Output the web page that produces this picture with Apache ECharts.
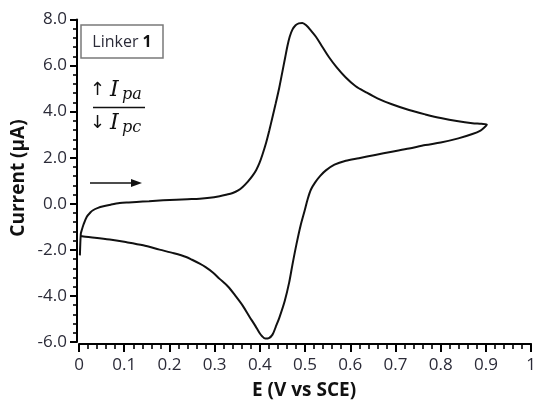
<!DOCTYPE html>
<html>
<head>
<meta charset="utf-8">
<script src="https://cdn.jsdelivr.net/npm/echarts@6/dist/echarts.min.js"></script>
<style>
  html, body { margin: 0; padding: 0; background: #fff; }
  #chart { width: 539px; height: 403px; }
</style>
</head>
<body>
<div id="chart"></div>
<script>
// Cyclic voltammogram of Linker 1 (potential in V vs SCE, current in µA)

// Anodic (forward) sweep, 0 V -> 0.9 V
const potentialForward = [
  0.002, 0.004, 0.006, 0.010, 0.017, 0.025, 0.031, 0.042, 0.054, 0.070,
  0.090, 0.110, 0.127, 0.155, 0.186, 0.215, 0.240, 0.267, 0.289, 0.311,
  0.325, 0.340, 0.352, 0.362, 0.373, 0.384, 0.392, 0.399, 0.406, 0.414,
  0.421, 0.428, 0.435, 0.443, 0.450, 0.456, 0.461, 0.466, 0.472, 0.479,
  0.486, 0.494, 0.503, 0.513, 0.524, 0.538, 0.553, 0.570, 0.590, 0.612,
  0.634, 0.660, 0.692, 0.730, 0.766, 0.800, 0.839, 0.870, 0.890, 0.902
];
const currentForward = [
  -2.24, -1.30, -1.15, -0.90, -0.57, -0.38, -0.28, -0.18, -0.11, -0.04,
  0.03, 0.06, 0.08, 0.11, 0.15, 0.18, 0.20, 0.22, 0.26, 0.33,
  0.39, 0.47, 0.58, 0.73, 0.95, 1.22, 1.47, 1.76, 2.15, 2.66,
  3.19, 3.77, 4.35, 5.05, 5.75, 6.35, 6.85, 7.25, 7.56, 7.75,
  7.83, 7.85, 7.74, 7.52, 7.25, 6.82, 6.36, 5.92, 5.48, 5.10,
  4.85, 4.58, 4.32, 4.07, 3.88, 3.72, 3.58, 3.50, 3.47, 3.44
];

// Cathodic (reverse) sweep, 0.9 V -> 0 V
const potentialReverse = [
  0.897, 0.888, 0.870, 0.839, 0.800, 0.766, 0.730, 0.692, 0.655, 0.619,
  0.590, 0.565, 0.546, 0.534, 0.522, 0.513, 0.506, 0.499, 0.490, 0.481,
  0.472, 0.465, 0.455, 0.443, 0.435, 0.428, 0.420, 0.412, 0.405, 0.399,
  0.390, 0.377, 0.362, 0.347, 0.330, 0.311, 0.296, 0.280, 0.267, 0.250,
  0.237, 0.210, 0.178, 0.142, 0.100, 0.068, 0.035, 0.010, 0.002
];
const currentReverse = [
  3.32, 3.18, 3.03, 2.84, 2.66, 2.55, 2.40, 2.26, 2.12, 1.98,
  1.87, 1.70, 1.45, 1.22, 0.92, 0.62, 0.22, -0.30, -0.95, -1.75,
  -2.65, -3.40, -4.22, -4.95, -5.35, -5.68, -5.83, -5.85, -5.75, -5.60,
  -5.30, -4.90, -4.42, -4.02, -3.60, -3.26, -2.98, -2.75, -2.60, -2.43,
  -2.31, -2.15, -1.99, -1.80, -1.65, -1.55, -1.47, -1.42, -1.40
];

// Axis ranges and tick spacing
const xRange = [0, 1];
const xStep = 0.1;
const yRange = [-6, 8];
const yStep = 2;

const sweep = potentialForward.map((e, i) => [e, currentForward[i]])
  .concat(potentialReverse.map((e, i) => [e, currentReverse[i]]));

const labelColor = '#2b2b38';
const tickFont = '"Open Sans", "Noto Sans", sans-serif';

const chart = echarts.init(document.getElementById('chart'), null, { renderer: 'canvas' });

chart.setOption({
  animation: false,
  backgroundColor: '#ffffff',
  grid: { left: 79, right: 6, top: 19.5, bottom: 61, containLabel: false },
  xAxis: {
    type: 'value',
    min: xRange[0], max: xRange[1], interval: xStep,
    offset: 2,
    axisLine: { show: true, onZero: false, lineStyle: { color: '#000', width: 2 } },
    axisTick: { show: true, inside: false, length: 8, lineStyle: { color: '#000', width: 2 } },
    minorTick: { show: true, splitNumber: 5, length: 5, lineStyle: { color: '#000', width: 1.6 } },
    splitLine: { show: false },
    axisLabel: {
      margin: 13, color: labelColor, fontSize: 17, fontFamily: tickFont,
      formatter: v => String(+v.toFixed(1))
    }
  },
  yAxis: {
    type: 'value',
    min: yRange[0], max: yRange[1], interval: yStep,
    offset: 2,
    axisLine: { show: true, onZero: false, lineStyle: { color: '#000', width: 2 } },
    axisTick: { show: true, inside: false, length: 7, lineStyle: { color: '#000', width: 2 } },
    minorTick: { show: true, splitNumber: 5, length: 4, lineStyle: { color: '#000', width: 1.6 } },
    splitLine: { show: false },
    axisLabel: {
      margin: 10, color: labelColor, fontSize: 17, fontFamily: tickFont,
      formatter: v => v.toFixed(1)
    }
  },
  series: [{
    type: 'line',
    data: sweep,
    showSymbol: false,
    smooth: 0.3,
    clip: false,
    lineStyle: { color: '#111', width: 2 }
  }],
  graphic: [
    // axis titles
    {
      type: 'text', left: 252, top: 381,
      style: { text: 'E (V vs SCE)', font: 'bold 19px "Open Sans", sans-serif', fill: '#111' }
    },
    {
      type: 'text', x: 19, y: 178, rotation: Math.PI / 2,
      style: {
        text: 'Current (μA)', font: 'bold 19px "Open Sans", sans-serif', fill: '#111',
        align: 'center', verticalAlign: 'middle'
      }
    },
    // "Linker 1" label box
    {
      type: 'rect', shape: { x: 81, y: 25, width: 82, height: 33 },
      style: { fill: '#fff', stroke: '#7a7a7a', lineWidth: 1.5 }
    },
    {
      type: 'text', x: 122, y: 42,
      style: {
        text: 'Linker {b|1}', align: 'center', verticalAlign: 'middle',
        font: '16px "Open Sans", sans-serif', fill: labelColor,
        rich: { b: { fontWeight: 'bold', fontSize: 16, fontFamily: '"Open Sans", sans-serif', fill: '#111' } }
      }
    },
    // peak current ratio Ipa / Ipc
    {
      type: 'text', x: 97.5, y: 90,
      style: { text: '↑', font: '18px "DejaVu Sans", sans-serif', fill: '#111', align: 'center', verticalAlign: 'middle' }
    },
    {
      type: 'text', x: 110, y: 90,
      style: { text: 'I', font: 'italic 22px "DejaVu Serif", serif', fill: '#111', verticalAlign: 'middle' }
    },
    {
      type: 'text', x: 122, y: 95,
      style: { text: 'pa', font: 'italic 16px "DejaVu Serif", serif', fill: '#111', verticalAlign: 'middle' }
    },
    {
      type: 'line', shape: { x1: 93, y1: 107.5, x2: 145, y2: 107.5 },
      style: { stroke: '#111', lineWidth: 1.5 }
    },
    {
      type: 'text', x: 97.5, y: 123,
      style: { text: '↓', font: '18px "DejaVu Sans", sans-serif', fill: '#111', align: 'center', verticalAlign: 'middle' }
    },
    {
      type: 'text', x: 110, y: 123,
      style: { text: 'I', font: 'italic 22px "DejaVu Serif", serif', fill: '#111', verticalAlign: 'middle' }
    },
    {
      type: 'text', x: 122, y: 128,
      style: { text: 'pc', font: 'italic 16px "DejaVu Serif", serif', fill: '#111', verticalAlign: 'middle' }
    },
    // scan direction arrow
    {
      type: 'line', shape: { x1: 90, y1: 183, x2: 134, y2: 183 },
      style: { stroke: '#111', lineWidth: 1.6 }
    },
    {
      type: 'polygon', shape: { points: [[131, 179], [142, 183], [131, 187]] },
      style: { fill: '#111' }
    }
  ]
});
</script>
</body>
</html>
